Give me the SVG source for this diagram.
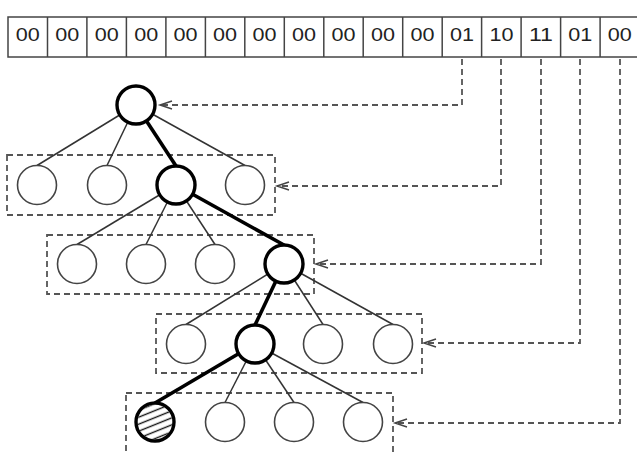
<svg xmlns="http://www.w3.org/2000/svg" width="637" height="452" viewBox="0 0 637 452">
<style>
.cell{fill:#fff;stroke:#444;stroke-width:1.5}
.tt{font-family:"Liberation Sans",Arial,sans-serif;font-size:19px;fill:#222;text-anchor:middle}
.edge{stroke:#333;stroke-width:1.5;fill:none}
.bedge{stroke:#000;stroke-width:3.6;fill:none}
.node{fill:#fff;stroke:#444;stroke-width:1.6}
.bnode{fill:#fff;stroke:#000;stroke-width:3.4}
.box{fill:none;stroke:#555;stroke-width:1.8;stroke-dasharray:6 4}
.ptr{fill:none;stroke:#555;stroke-width:1.8;stroke-dasharray:6 4;marker-end:url(#arr)}
</style>
<defs>
<marker id="arr" markerUnits="userSpaceOnUse" markerWidth="14" markerHeight="10" refX="12" refY="5" orient="auto" overflow="visible">
<path d="M0,1 L12,5 L0,9" fill="none" stroke="#444" stroke-width="1.5"/>
</marker>
<pattern id="hatch" width="10" height="6.5" patternUnits="userSpaceOnUse" patternTransform="rotate(-22)">
<line x1="0" y1="3.25" x2="10" y2="3.25" stroke="#111" stroke-width="1.4"/>
</pattern>
</defs>
<rect width="637" height="452" fill="#fff"/>
<g id="table">
<rect class="cell" x="8" y="17" width="640" height="40"/>
<g stroke="#444" stroke-width="1.5">
<line x1="47.5" y1="17" x2="47.5" y2="57"/>
<line x1="86.9" y1="17" x2="86.9" y2="57"/>
<line x1="126.4" y1="17" x2="126.4" y2="57"/>
<line x1="165.9" y1="17" x2="165.9" y2="57"/>
<line x1="205.4" y1="17" x2="205.4" y2="57"/>
<line x1="244.8" y1="17" x2="244.8" y2="57"/>
<line x1="284.3" y1="17" x2="284.3" y2="57"/>
<line x1="323.8" y1="17" x2="323.8" y2="57"/>
<line x1="363.2" y1="17" x2="363.2" y2="57"/>
<line x1="402.7" y1="17" x2="402.7" y2="57"/>
<line x1="442.2" y1="17" x2="442.2" y2="57"/>
<line x1="481.6" y1="17" x2="481.6" y2="57"/>
<line x1="521.1" y1="17" x2="521.1" y2="57"/>
<line x1="560.6" y1="17" x2="560.6" y2="57"/>
<line x1="600.1" y1="17" x2="600.1" y2="57"/>
</g>
<g class="tt">
<text x="27.7" y="41" textLength="24" lengthAdjust="spacingAndGlyphs">00</text>
<text x="67.2" y="41" textLength="24" lengthAdjust="spacingAndGlyphs">00</text>
<text x="106.7" y="41" textLength="24" lengthAdjust="spacingAndGlyphs">00</text>
<text x="146.2" y="41" textLength="24" lengthAdjust="spacingAndGlyphs">00</text>
<text x="185.6" y="41" textLength="24" lengthAdjust="spacingAndGlyphs">00</text>
<text x="225.1" y="41" textLength="24" lengthAdjust="spacingAndGlyphs">00</text>
<text x="264.6" y="41" textLength="24" lengthAdjust="spacingAndGlyphs">00</text>
<text x="304.0" y="41" textLength="24" lengthAdjust="spacingAndGlyphs">00</text>
<text x="343.5" y="41" textLength="24" lengthAdjust="spacingAndGlyphs">00</text>
<text x="383.0" y="41" textLength="24" lengthAdjust="spacingAndGlyphs">00</text>
<text x="422.5" y="41" textLength="24" lengthAdjust="spacingAndGlyphs">00</text>
<text x="461.9" y="41" textLength="24" lengthAdjust="spacingAndGlyphs">01</text>
<text x="501.4" y="41" textLength="24" lengthAdjust="spacingAndGlyphs">10</text>
<text x="540.9" y="41" textLength="24" lengthAdjust="spacingAndGlyphs">11</text>
<text x="580.3" y="41" textLength="24" lengthAdjust="spacingAndGlyphs">01</text>
<text x="619.8" y="41" textLength="24" lengthAdjust="spacingAndGlyphs">00</text>
</g>
</g>
<g id="level-boxes">
<rect class="box" x="7" y="155" width="268" height="60"/>
<rect class="box" x="47" y="235" width="267" height="59"/>
<rect class="box" x="156" y="314" width="266" height="59"/>
<rect class="box" x="126" y="393" width="267" height="62"/>
</g>
<g id="connectors">
<line class="edge" x1="136" y1="105" x2="37" y2="165.5"/>
<line class="edge" x1="136" y1="105" x2="107" y2="165.5"/>
<line class="edge" x1="136" y1="105" x2="245" y2="165.5"/>
<line class="bedge" x1="136" y1="105" x2="176" y2="166"/>
<line class="edge" x1="176" y1="185" x2="77" y2="244.5"/>
<line class="edge" x1="176" y1="185" x2="146" y2="244.5"/>
<line class="edge" x1="176" y1="185" x2="215" y2="244.5"/>
<line class="bedge" x1="176" y1="185" x2="284" y2="245"/>
<line class="edge" x1="284" y1="264" x2="186" y2="324.5"/>
<line class="edge" x1="284" y1="264" x2="323" y2="324.5"/>
<line class="edge" x1="284" y1="264" x2="393" y2="324.5"/>
<line class="bedge" x1="284" y1="264" x2="255" y2="325"/>
<line class="edge" x1="255" y1="344" x2="225" y2="402.5"/>
<line class="edge" x1="255" y1="344" x2="294" y2="402.5"/>
<line class="edge" x1="255" y1="344" x2="363" y2="402.5"/>
<line class="bedge" x1="255" y1="344" x2="155" y2="403"/>
<path class="ptr" d="M462 59 V105 H160"/>
<path class="ptr" d="M501 59 V186 H277"/>
<path class="ptr" d="M541 59 V264 H316"/>
<path class="ptr" d="M580 59 V343 H424"/>
<path class="ptr" d="M620 59 V423 H395"/>
</g>
<g id="root"><circle class="bnode" cx="136" cy="105" r="19"/></g>
<g id="n1a"><circle class="node" cx="37" cy="185" r="19.5"/></g>
<g id="n1b"><circle class="node" cx="107" cy="185" r="19.5"/></g>
<g id="n1c"><circle class="bnode" cx="176" cy="185" r="19"/></g>
<g id="n1d"><circle class="node" cx="245" cy="185" r="19.5"/></g>
<g id="n2a"><circle class="node" cx="77" cy="264" r="19.5"/></g>
<g id="n2b"><circle class="node" cx="146" cy="264" r="19.5"/></g>
<g id="n2c"><circle class="node" cx="215" cy="264" r="19.5"/></g>
<g id="n2d"><circle class="bnode" cx="284" cy="264" r="19"/></g>
<g id="n3a"><circle class="node" cx="186" cy="344" r="19.5"/></g>
<g id="n3b"><circle class="bnode" cx="255" cy="344" r="19"/></g>
<g id="n3c"><circle class="node" cx="323" cy="344" r="19.5"/></g>
<g id="n3d"><circle class="node" cx="393" cy="344" r="19.5"/></g>
<g id="n4a"><circle class="bnode" cx="155" cy="422" r="19"/><circle cx="155" cy="422" r="17.3" fill="url(#hatch)"/></g>
<g id="n4b"><circle class="node" cx="225" cy="422" r="19.5"/></g>
<g id="n4c"><circle class="node" cx="294" cy="422" r="19.5"/></g>
<g id="n4d"><circle class="node" cx="363" cy="422" r="19.5"/></g>
</svg>
